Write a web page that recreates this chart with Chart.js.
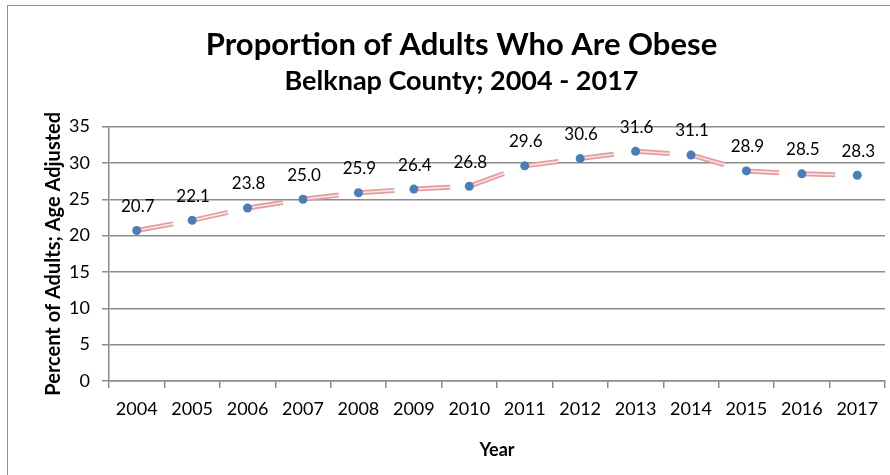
<!DOCTYPE html>
<html>
<head>
<meta charset="utf-8">
<script src="https://cdn.jsdelivr.net/npm/chart.js@4/dist/chart.umd.min.js"></script>
<style>
  html, body { margin: 0; padding: 0; background: #fff; width: 890px; height: 475px; overflow: hidden; }
  #frame { position: absolute; left: 7px; top: 5px; width: 1000px; height: 1000px; border: 1px solid #8f8f8f; }
  #wrap { position: absolute; left: 0; top: 0; width: 920px; height: 475px; }
</style>
</head>
<body>
<div id="frame"></div>
<div id="wrap"><canvas id="obeseChart"></canvas></div>
<script>
// ====== DATA ======
const years = ['2004','2005','2006','2007','2008','2009','2010','2011','2012','2013','2014','2015','2016','2017'];
const obesePct = [20.7, 22.1, 23.8, 25.0, 25.9, 26.4, 26.8, 29.6, 30.6, 31.6, 31.1, 28.9, 28.5, 28.3];
const yTickMin = 0, yTickMax = 35, yTickStep = 5;

const GRID = '#8c8c8c';
const dash = [37, 19];

// value labels above each point
const pointLabels = {
  id: 'pointLabels',
  afterDatasetsDraw(chart) {
    const meta = chart.getDatasetMeta(0);
    const ctx = chart.ctx;
    ctx.save();
    ctx.font = '17px Lato';
    ctx.fillStyle = '#000';
    ctx.textAlign = 'center';
    ctx.textBaseline = 'middle';
    meta.data.forEach((pt, i) => {
      ctx.fillText(obesePct[i].toFixed(1), pt.x + 1, pt.y - 24);
    });
    ctx.restore();
  }
};

new Chart(document.getElementById('obeseChart'), {
  type: 'line',
  data: {
    labels: years,
    datasets: [
      {
        label: 'points',
        data: obesePct,
        showLine: false,
        pointRadius: 4.5,
        pointBackgroundColor: '#4a7ebb',
        pointBorderColor: '#4a7ebb',
        pointBorderWidth: 0
      },
      {
        label: 'inner',
        data: obesePct,
        borderColor: '#fbe2e2',
        borderWidth: 1.6,
        borderDash: dash,
        pointRadius: 0,
        tension: 0
      },
      {
        label: 'outer',
        data: obesePct,
        borderColor: '#e29c9c',
        borderWidth: 5,
        borderDash: dash,
        pointRadius: 0,
        tension: 0
      }
    ]
  },
  options: {
    responsive: true,
    maintainAspectRatio: false,
    animation: false,
    layout: { padding: { left: 38, right: 35, top: 0, bottom: 0 } },
    plugins: {
      legend: { display: false },
      tooltip: { enabled: false },
      title: {
        display: true,
        text: 'Proportion of Adults Who Are Obese',
        font: { family: 'Lato', size: 31, weight: 'bold' },
        color: '#000',
        padding: { top: 26, bottom: 2 }
      },
      subtitle: {
        display: true,
        text: 'Belknap County; 2004 - 2017',
        font: { family: 'Lato', size: 27, weight: 'bold' },
        color: '#000',
        padding: { top: 0, bottom: 29 }
      }
    },
    scales: {
      y: {
        min: yTickMin,
        max: yTickMax,
        afterFit: s => { s.width = 71; },
        ticks: { stepSize: yTickStep, font: { family: 'Lato', size: 18 }, color: '#000', padding: 12 },
        grid: { color: GRID, lineWidth: 1.5, tickLength: 7 },
        border: { color: GRID, width: 1.5 },
        title: {
          display: true,
          text: 'Percent of Adults; Age Adjusted',
          font: { family: 'Lato', size: 20, weight: 'bold' },
          color: '#000',
          padding: { top: 4, bottom: 0 }
        }
      },
      x: {
        offset: true,
        afterFit: s => { s.height = 94; },
        ticks: { font: { family: 'Lato', size: 18 }, color: '#000', padding: 10, maxRotation: 0, autoSkip: false },
        grid: { offset: true, drawOnChartArea: false, color: GRID, lineWidth: 1.5, tickLength: 7 },
        border: { color: GRID, width: 1.5 },
        title: {
          display: true,
          text: 'Year',
          font: { family: 'Lato', size: 18, weight: 'bold' },
          color: '#000',
          padding: { top: 0, bottom: 14 }
        }
      }
    }
  },
  plugins: [pointLabels]
});
</script>
</body>
</html>
